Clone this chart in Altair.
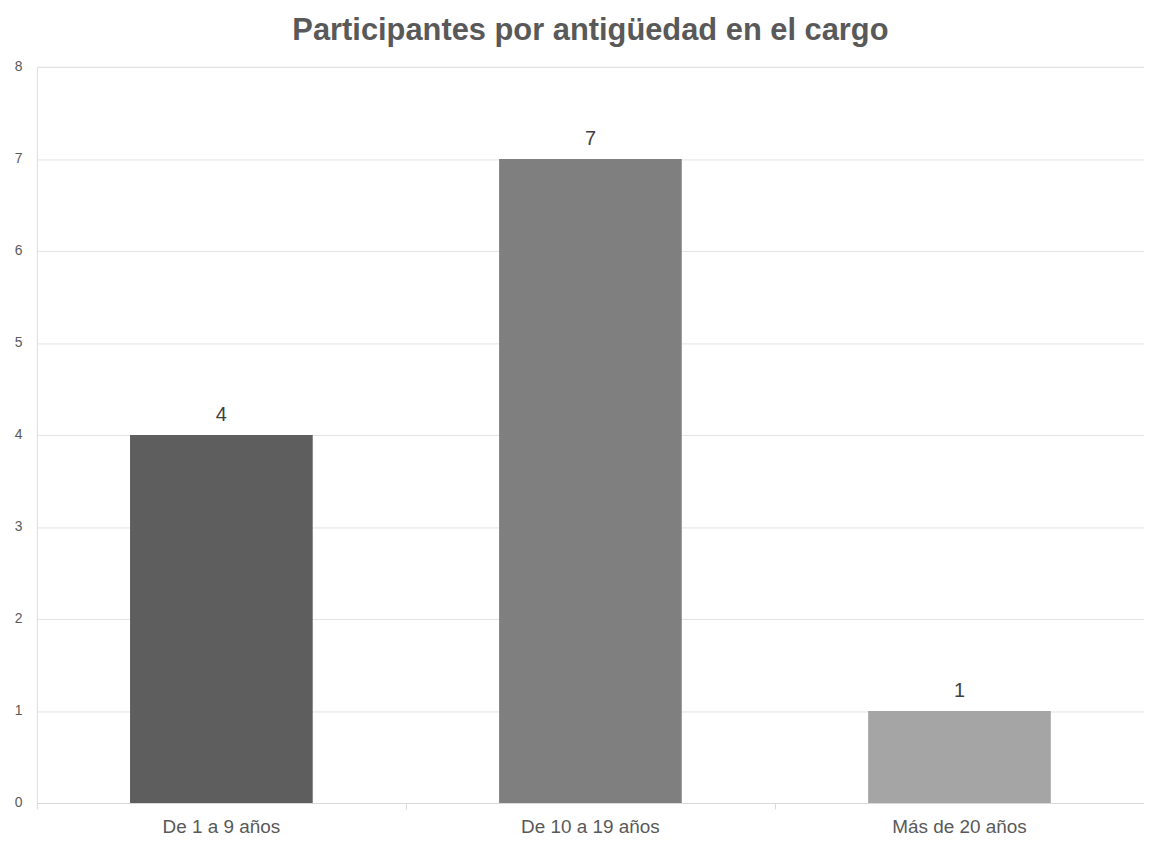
import altair as alt
import pandas as pd

categories = ["De 1 a 9 años", "De 10 a 19 años", "Más de 20 años"]
values = [4, 7, 1]
colors = ["#5e5e5e", "#7f7f7f", "#a5a5a5"]

df = pd.DataFrame({"cat": categories, "val": values, "color": colors})

x = alt.X("cat:N", sort=categories, title=None,
          scale=alt.Scale(paddingInner=0, paddingOuter=0),
          axis=alt.Axis(labelAngle=0, labelFontSize=19, labelColor="#595959",
                        labelFont="Liberation Sans", labelPadding=9,
                        domainColor="#d9d9d9", tickColor="#d9d9d9", tickSize=6,
                        bandPosition=0, grid=False))

bars = alt.Chart(df).mark_bar(width={"band": 0.495}).encode(
    x=x,
    y=alt.Y("val:Q", title=None,
            scale=alt.Scale(domain=[0, 8], nice=False),
            axis=alt.Axis(values=list(range(0, 9)), format="d", ticks=False, domain=False,
                          labelFontSize=14, labelColor="#595959",
                          labelFont="Liberation Sans", labelPadding=15,
                          gridColor="#e3e3e3", gridWidth=1)),
    color=alt.Color("color:N", scale=None),
)

labels = alt.Chart(df).mark_text(dy=-10, baseline="bottom", fontSize=20,
                                 color="#404040", font="Liberation Sans").encode(
    x=alt.X("cat:N", sort=categories),
    y="val:Q",
    text="val:Q",
)

chart = alt.layer(bars, labels).properties(
    width=1113, height=740,
    padding={"left": 6, "top": 5, "right": 0, "bottom": 0},
    title=alt.TitleParams("Participantes por antigüedad en el cargo",
                          font="Liberation Sans", fontSize=31, fontWeight="bold",
                          color="#595959", anchor="middle", offset=13),
).configure_view(stroke=None).configure(background="white")

chart.save("out.html", embed_options={"renderer": "svg", "actions": False})
